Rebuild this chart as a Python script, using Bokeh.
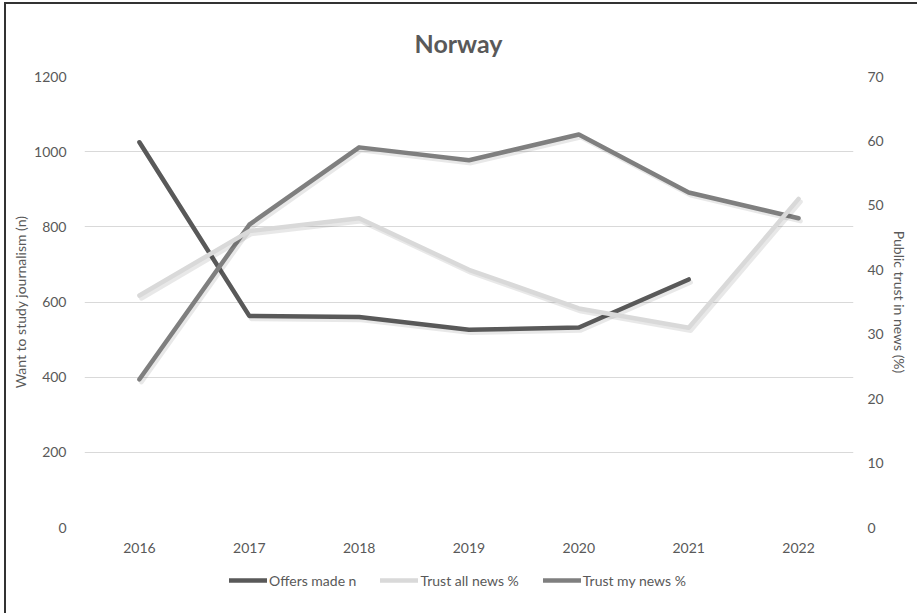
from bokeh.plotting import figure
from bokeh.layouts import column
from bokeh.models import (Range1d, LinearAxis, SingleIntervalTicker, Legend,
                          LegendItem, ColumnDataSource, FactorRange)
from bokeh.transform import dodge
from bokeh.embed import file_html
from bokeh.resources import INLINE

# Norway: applicants vs. public trust in news
years = ["2016", "2017", "2018", "2019", "2020", "2021", "2022"]
offers_made = [1025, 563, 560, 526, 532, 660, float("nan")]
trust_all_news = [36, 46, 48, 40, 34, 31, 51]
trust_my_news = [23, 47, 59, 57, 61, 52, 48]
series_labels = ["Offers made n", "Trust all news %", "Trust my news %"]

FONT = "Lato"
TEXT = "#595959"
GRID = "#d9d9d9"
COLORS = {"offers": "#595959", "all_news": "#d9d9d9", "my_news": "#7f7f7f"}

src = ColumnDataSource(dict(year=years, offers=offers_made,
                            all_news=trust_all_news, my_news=trust_my_news))

p = figure(frame_width=769, frame_height=451,
           x_range=FactorRange(*years), y_range=Range1d(0, 1200),
           output_backend="svg", toolbar_location=None,
           min_border_left=78, min_border_right=64,
           min_border_top=72, min_border_bottom=40)
p.outline_line_color = None
p.background_fill_color = "white"
p.border_fill_color = "white"

p.title.text = "Norway"
p.title.align = "left"
p.title.offset = 330
p.title.standoff = 38
p.title.text_font = FONT
p.title.text_font_size = "25px"
p.title.text_font_style = "bold"
p.title.text_color = TEXT

p.extra_y_ranges = {"pct": Range1d(0, 70)}

# axes
p.xaxis.axis_line_color = None
p.xaxis.major_tick_line_color = None
p.xaxis.minor_tick_line_color = None
p.xaxis.major_label_text_font = FONT
p.xaxis.major_label_text_font_size = "14px"
p.xaxis.major_label_text_color = TEXT
p.xaxis.major_label_standoff = 9
p.xgrid.grid_line_color = None

left = p.yaxis[0]
left.ticker = SingleIntervalTicker(interval=200)
left.axis_label = "Want to study journalism (n)"
right = LinearAxis(y_range_name="pct", ticker=SingleIntervalTicker(interval=10),
                   axis_label="Public trust in news (%)")
p.add_layout(right, "right")
for ax, ls, als in ((left, 12, 2), (right, 8, 4)):
    ax.axis_line_color = None
    ax.major_tick_line_color = None
    ax.minor_tick_line_color = None
    ax.major_label_text_font = FONT
    ax.major_label_text_font_size = "14px"
    ax.major_label_text_color = TEXT
    ax.major_label_standoff = ls
    ax.axis_label_text_font = FONT
    ax.axis_label_text_font_size = "14px"
    ax.axis_label_text_font_style = "normal"
    ax.axis_label_text_color = TEXT
    ax.axis_label_standoff = als

p.ygrid.ticker = SingleIntervalTicker(interval=200)
p.ygrid.grid_line_color = GRID
p.ygrid.grid_line_width = 1

series = [("offers", "default", 8), ("my_news", "pct", 0.45), ("all_news", "pct", 0.45)]
for col, rng, drop in series:
    # soft drop shadow under each line
    p.line(x=dodge("year", 0.018, range=p.x_range), y=dodge(col, -drop),
           source=src, y_range_name=rng, line_color="black", line_alpha=0.09,
           line_width=4.5, line_cap="round", line_join="round")
    p.line(x="year", y=col, source=src, y_range_name=rng,
           line_color=COLORS[col], line_width=4.5,
           line_cap="round", line_join="round")

# legend strip underneath the chart
lg = figure(frame_width=769, frame_height=46, x_range=Range1d(0, 1),
            y_range=Range1d(0, 1), output_backend="svg", toolbar_location=None,
            min_border_left=78, min_border_right=64,
            min_border_top=0, min_border_bottom=0)
lg.axis.visible = False
lg.grid.visible = False
lg.outline_line_color = None
lg.border_fill_color = "white"
items = []
for col, label in zip(["offers", "all_news", "my_news"], series_labels):
    # legend proxy: one empty (NaN) point so only the legend swatch is drawn
    r = lg.line(x=[float("nan")], y=[float("nan")], line_color=COLORS[col],
                line_width=4.5, line_cap="round")
    items.append(LegendItem(label=label, renderers=[r]))
legend = Legend(items=items, orientation="horizontal", location=(145, 23))
legend.label_text_font = FONT
legend.label_text_font_size = "14px"
legend.label_text_color = TEXT
legend.glyph_width = 38
legend.label_standoff = 2
legend.spacing = 24
legend.border_line_color = None
legend.background_fill_alpha = 0
legend.padding = 4
legend.margin = 0
lg.add_layout(legend, "center")

layout = column(p, lg, spacing=0)
# chart border along the top and left edges
layout.styles = {"border-left": "2px solid #333333", "border-top": "2px solid #333333",
                 "margin-left": "4px", "margin-top": "2px",
                 "background-color": "white"}

open("out.html", "w").write(file_html(layout, INLINE))
